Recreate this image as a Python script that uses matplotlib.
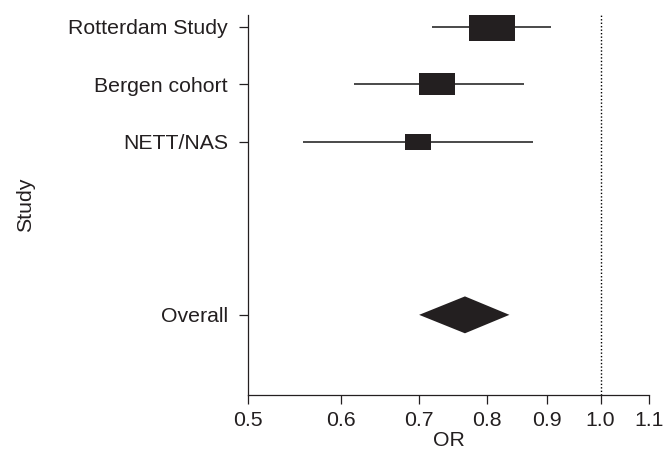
import numpy as np
import matplotlib
matplotlib.use("Agg")
import matplotlib.pyplot as plt
from matplotlib.path import Path

plt.rcParams['font.family'] = ['Liberation Sans', 'DejaVu Sans']

studies = ["Rotterdam Study", "Bergen cohort", "NETT/NAS"]
study_or = [0.808, 0.725, 0.698]
study_lo = [0.718, 0.616, 0.557]
study_hi = [0.907, 0.860, 0.876]
study_weight = [53.0, 30.0, 16.0]

overall_label = "Overall"
overall_or = 0.766
overall_lo = 0.700
overall_hi = 0.836

xticks = [0.5, 0.6, 0.7, 0.8, 0.9, 1.0, 1.1]
xticklabels = ["0.5", "0.6", "0.7", "0.8", "0.9", "1.0", "1.1"]

fig = plt.figure(figsize=(6.65, 4.51), dpi=100)
ax = fig.add_axes([248/665, 1-395/451, (649-248)/665, (395-15)/451])
ax.set_xscale('log')

ypos = [0, 1, 2]
y_overall = 5
dark = '#231f20'

# box marker with aspect ~1.63
aspect = 0.61
rect = Path([(-1, -aspect), (1, -aspect), (1, aspect), (-1, aspect), (-1, -aspect)],
            [Path.MOVETO, Path.LINETO, Path.LINETO, Path.LINETO, Path.CLOSEPOLY])

for y, o, lo, hi, w in zip(ypos, study_or, study_lo, study_hi, study_weight):
    ax.plot([lo, hi], [y, y], color='#3a3a3a', lw=1.3, solid_capstyle='butt', zorder=2)
    ms = 6.45 * np.sqrt(w) * 0.72
    ax.plot([o], [y], marker=rect, markersize=ms, color=dark, markeredgewidth=0, zorder=3)

# diamond
ax.fill([overall_lo, overall_or, overall_hi, overall_or],
        [y_overall, y_overall - 0.32, y_overall, y_overall + 0.32],
        color=dark, lw=0, zorder=3)

ax.axvline(1.0, color='black', linestyle=(0, (1, 1.5)), lw=1.0, zorder=1)

ax.set_xlim(0.5, 1.1)
ax.set_ylim(6.39, -0.2)
ax.set_xticks(xticks)
ax.set_xticklabels(xticklabels)
ax.xaxis.set_minor_locator(matplotlib.ticker.NullLocator())
ax.set_yticks(ypos + [y_overall])
ax.set_yticklabels(studies + [overall_label])

for s in ['top', 'right']:
    ax.spines[s].set_visible(False)
for s in ['left', 'bottom']:
    ax.spines[s].set_linewidth(0.9)
    ax.spines[s].set_color('#231f20')

fs = 15.3
ax.tick_params(axis='both', labelsize=fs, length=6.5, width=0.9, colors='#231f20')
ax.tick_params(axis='y', pad=8)
ax.tick_params(axis='x', pad=5)
ax.set_xlabel("OR", fontsize=fs, labelpad=1, color='#231f20')
ax.set_ylabel("Study", fontsize=fs, labelpad=24, color='#231f20')

fig.savefig("out.png", dpi=100)
